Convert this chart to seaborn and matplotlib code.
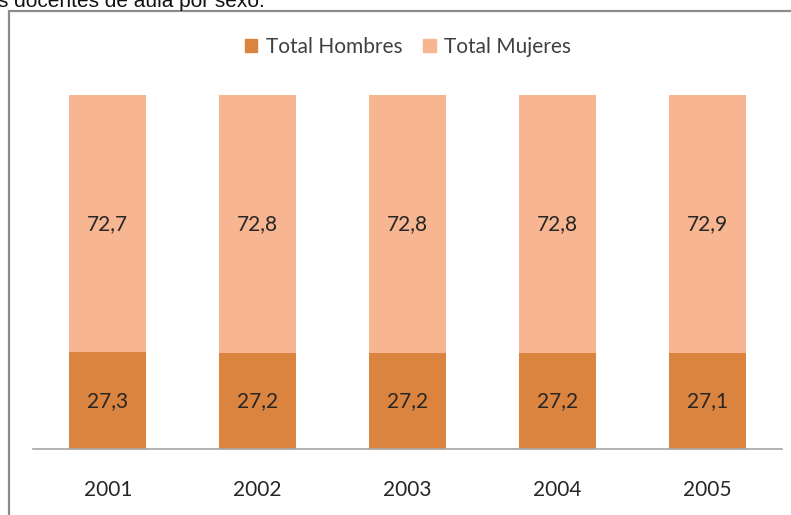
import matplotlib
matplotlib.use("Agg")
import matplotlib.pyplot as plt
from matplotlib.patches import Rectangle
import seaborn as sns
import pandas as pd

years = ["2001", "2002", "2003", "2004", "2005"]
hombres = [27.3, 27.2, 27.2, 27.2, 27.1]
mujeres = [72.7, 72.8, 72.8, 72.8, 72.9]
series_names = ["Total Hombres", "Total Mujeres"]
title_text = "s docentes de aula por sexo."

c_h = "#DB843F"
c_m = "#F8B592"

sns.set_theme(style="white")
plt.rcParams["font.family"] = ["Lato", "DejaVu Sans"]

df = pd.DataFrame({"year": years, "hombres": hombres, "mujeres": mujeres})
df["total"] = df["hombres"] + df["mujeres"]

fig = plt.figure(figsize=(7.91, 5.15), dpi=100)
ax = fig.add_axes([33 / 791, 66 / 515, 749 / 791, 354 / 515])

sns.barplot(data=df, x="year", y="total", color=c_m, saturation=1, width=0.515, ax=ax,
            label=series_names[1], linewidth=0)
sns.barplot(data=df, x="year", y="hombres", color=c_h, saturation=1, width=0.515, ax=ax,
            label=series_names[0], linewidth=0)
if ax.get_legend() is not None:
    ax.get_legend().remove()

for i, (h, m) in enumerate(zip(hombres, mujeres)):
    ax.text(i, h / 2, f"{h:.1f}".replace(".", ","), ha="center", va="center", fontsize=15, color="#262626")
    ax.text(i, h + m / 2, f"{m:.1f}".replace(".", ","), ha="center", va="center", fontsize=15, color="#262626")

ax.set_xlim(-0.5, 4.5)
ax.set_ylim(0, 100)
ax.set_xlabel("")
ax.set_ylabel("")
ax.set_yticks([])
ax.tick_params(axis="x", length=0, pad=22, labelsize=15, labelcolor="#262626")
for s in ["left", "right", "top"]:
    ax.spines[s].set_visible(False)
ax.spines["bottom"].set_color("#A6A6A6")
ax.spines["bottom"].set_linewidth(1.2)

handles = [Rectangle((0, 0), 1, 1, color=c_h), Rectangle((0, 0), 1, 1, color=c_m)]
fig.legend(handles, series_names, loc="center", bbox_to_anchor=(408 / 791, 1 - 47 / 515),
           ncol=2, frameon=False, fontsize=15, handlelength=0.6, handleheight=0.6,
           handletextpad=0.4, columnspacing=1.0, labelcolor="#404040")

frame = Rectangle((9 / 791, -0.1), 1.2, 1 - 11 / 515 + 0.1, transform=fig.transFigure,
                  fill=False, edgecolor="#8C8C8C", linewidth=1.6, clip_on=False)
fig.patches.append(frame)

fig.text(-2 / 791, 1 - 7 / 515, title_text, ha="left", va="baseline", fontsize=15,
         family=["Liberation Sans", "DejaVu Sans"], color="#111111")

fig.savefig("out.png", dpi=100)
